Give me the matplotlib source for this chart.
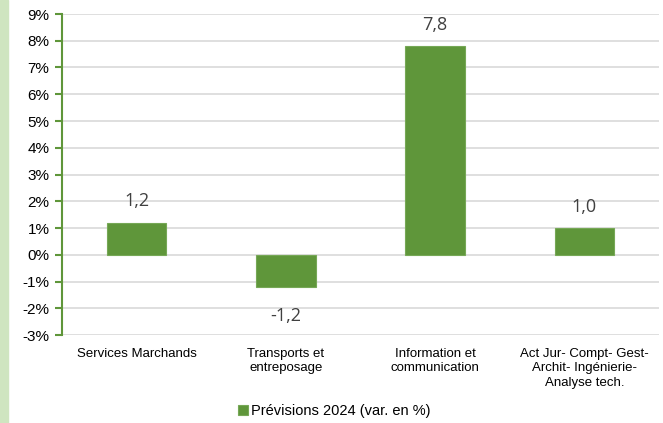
import numpy as np
import matplotlib.pyplot as plt
from matplotlib.patches import Rectangle

categories = ["Services Marchands", "Transports et\nentreposage",
              "Information et\ncommunication",
              "Act Jur- Compt- Gest-\nArchit- Ingénierie-\nAnalyse tech."]
values = [1.2, -1.2, 7.8, 1.0]
value_labels = ["1,2", "-1,2", "7,8", "1,0"]
series_name = "Prévisions 2024 (var. en %)"

green = "#5f963a"

plt.rcParams['font.family'] = ['Liberation Sans', 'DejaVu Sans']

fig = plt.figure(figsize=(6.63, 4.23), dpi=100)
fig.patches.append(Rectangle((0, 0), 8 / 663, 1, transform=fig.transFigure,
                             color="#cfe5c0", zorder=0))
ax = fig.add_axes([62 / 663, 1 - 335 / 423, 597 / 663, 321 / 423])

x = np.arange(len(categories))
bars = ax.bar(x, values, width=0.4, color=green, edgecolor="#76a856",
              linewidth=0.8, label=series_name, zorder=3)

for xi, v, lab in zip(x, values, value_labels):
    off = 0.8 if v >= 0 else -1.08
    ax.text(xi, v + off, lab, ha="center", va="center", fontsize=13,
            color="#404040", family=["Open Sans", "DejaVu Sans"])

ax.set_xlim(-0.5, len(categories) - 0.5)
ax.set_ylim(-3, 9)
ax.set_yticks(np.arange(-3, 10, 1))
ax.set_yticklabels([f"{t}%" for t in range(-3, 10)], fontsize=11)
ax.yaxis.grid(True, color="#d9d9d9", linewidth=1.2, zorder=0)
ax.set_axisbelow(True)

ax.set_xticks(x)
ax.set_xticklabels(categories, fontsize=9.5, linespacing=1.3)
ax.tick_params(axis="x", length=0, pad=9)
ax.tick_params(axis="y", length=5, color=green, width=1.5, pad=4)

for s in ["top", "right", "bottom"]:
    ax.spines[s].set_visible(False)
ax.spines["left"].set_color(green)
ax.spines["left"].set_linewidth(1.5)

fig.legend(handles=[bars], labels=[series_name], loc="center",
           bbox_to_anchor=(334 / 663, 1 - 411 / 423), frameon=False,
           fontsize=10.5, handlelength=0.7, handleheight=0.7, handletextpad=0.2)

fig.savefig("out.png", dpi=100)
